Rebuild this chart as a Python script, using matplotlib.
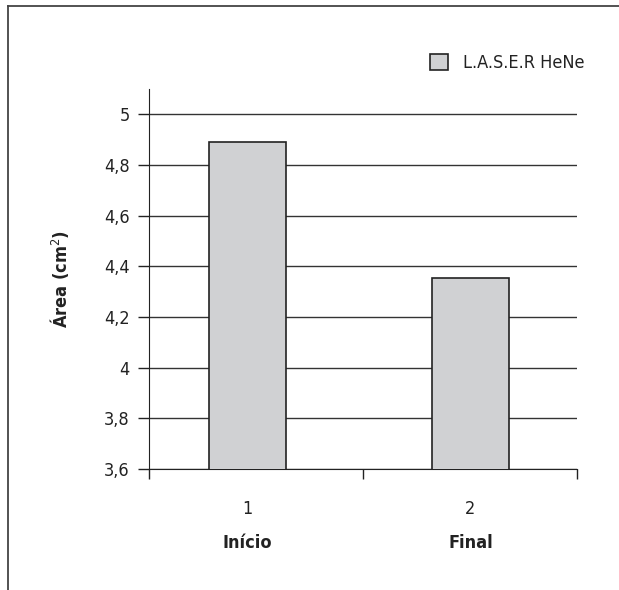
import numpy as np
import matplotlib
matplotlib.use('Agg')
import matplotlib.pyplot as plt
from matplotlib.lines import Line2D

plt.rcParams['font.family'] = ['Liberation Sans Narrow', 'DejaVu Sans']
plt.rcParams['font.stretch'] = 'condensed'

categorias = ['Início', 'Final']
numeros = ['1', '2']
area = [4.89, 4.355]
serie = 'L.A.S.E.R HeNe'
yticks = [3.6, 3.8, 4.0, 4.2, 4.4, 4.6, 4.8, 5.0]
ytick_labels = ['3,6', '3,8', '4', '4,2', '4,4', '4,6', '4,8', '5']

fig = plt.figure(figsize=(6.19, 5.90), dpi=100)
ax = fig.add_axes([0.2407, 0.205, 0.932 - 0.2407, 0.849 - 0.205])

x = np.arange(len(categorias))
ax.bar(x, area, width=0.345, bottom=0, color='#d0d1d3', edgecolor='#222222',
       linewidth=1.2, label=serie, zorder=3)

ax.set_ylim(3.6, 5.1)
ax.set_xlim(-0.442, 1.478)
ax.set_yticks(yticks)
ax.set_yticklabels(ytick_labels, fontsize=13, color='#222222')
for y in yticks:
    ax.axhline(y, color='#333333', linewidth=1.0, zorder=1)

ax.set_xticks([-0.442, 0.518, 1.478])
ax.set_xticklabels([])
ax.set_xticks(x, minor=True)
ax.set_xticklabels(numeros, minor=True, fontsize=13, color='#222222')
ax.tick_params(axis='x', which='minor', length=0, pad=22)
ax.tick_params(axis='x', which='major', length=7, width=1.0, direction='out', color='#222222')
ax.tick_params(axis='y', length=8, width=1.0, direction='out', color='#222222', pad=6)

for xi, c in zip(x, categorias):
    ax.text(xi, -0.195, c, transform=ax.get_xaxis_transform(), ha='center', va='center',
            fontsize=13, fontweight='bold', color='#222222')

ax.set_ylabel('Área (cm$^2$)', fontsize=13, fontweight='bold', color='#222222', labelpad=24)

for s in ['top', 'right']:
    ax.spines[s].set_visible(False)
ax.spines['left'].set_color('#222222')
ax.spines['bottom'].set_color('#222222')

ax.legend(loc='upper right', bbox_to_anchor=(1.055, 1.135), frameon=False, fontsize=13,
          handlelength=1.0, handleheight=1.0, handletextpad=0.8, labelcolor='#222222')

# moldura (apenas topo e esquerda visiveis)
fig.add_artist(Line2D([8 / 619, 1.0], [1 - 6 / 590, 1 - 6 / 590], transform=fig.transFigure,
                      color='#444444', linewidth=1.3))
fig.add_artist(Line2D([8 / 619, 8 / 619], [0.0, 1 - 6 / 590], transform=fig.transFigure,
                      color='#444444', linewidth=1.3))

fig.savefig('out.png', dpi=100)
